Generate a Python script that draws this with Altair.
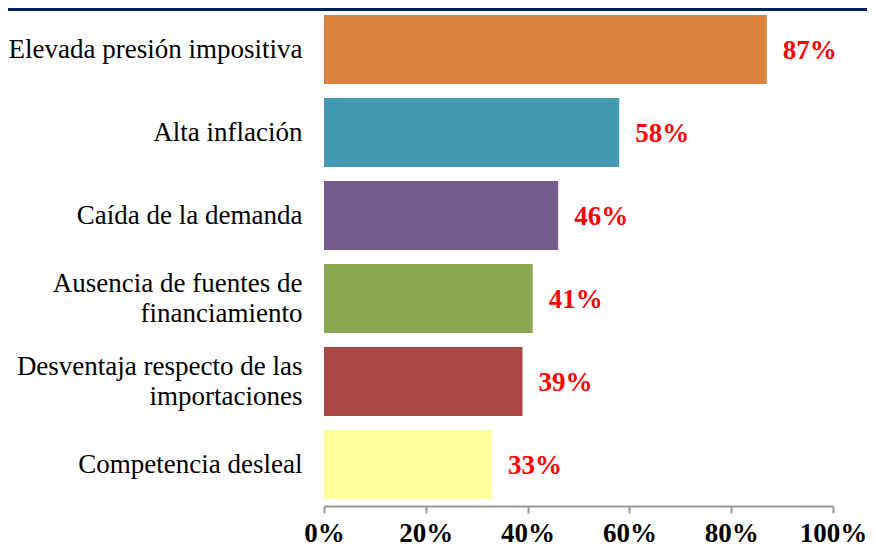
import altair as alt
import pandas as pd

categories = [
    "Elevada presión impositiva",
    "Alta inflación",
    "Caída de la demanda",
    "Ausencia de fuentes de|financiamiento",
    "Desventaja respecto de las|importaciones",
    "Competencia desleal",
]
values = [0.87, 0.58, 0.46, 0.41, 0.39, 0.33]
colors = ["#DC8340", "#459AB1", "#745A8F", "#8AA850", "#AA4946", "#FFFF9B"]

df = pd.DataFrame({"cat": categories, "val": values, "color": colors})

FONT = "Liberation Serif"
FS = 27

y_enc = alt.Y(
    "cat:N",
    sort=categories,
    title=None,
    scale=alt.Scale(paddingInner=0.17, paddingOuter=0.085),
    axis=alt.Axis(
        labelExpr="split(datum.label, '|')",
        labelFont=FONT,
        labelFontSize=FS,
        labelColor="black",
        labelPadding=22,
        labelLimit=400,
        labelLineHeight=30,
        labelOffset=alt.condition("indexof(datum.value, '|') >= 0", alt.value(-15), alt.value(0)),
        domain=False,
        ticks=False,
    ),
)
x_enc = alt.X(
    "val:Q",
    title=None,
    scale=alt.Scale(domain=[0, 1]),
    axis=alt.Axis(
        values=[0, 0.2, 0.4, 0.6, 0.8, 1.0],
        format=".0%",
        grid=False,
        domainColor="#999999",
        domainWidth=2,
        tickColor="#999999",
        tickWidth=2,
        tickSize=7,
        labelFont=FONT,
        labelFontSize=FS,
        labelFontWeight="bold",
        labelColor="black",
        labelPadding=7,
        labelFlush=False,
    ),
)

bars = alt.Chart(df).mark_bar().encode(
    x=x_enc,
    y=y_enc,
    color=alt.Color("color:N", scale=None),
)

labels = alt.Chart(df).mark_text(
    align="left", baseline="middle", dx=16, dy=1,
    font=FONT, fontSize=FS, fontWeight="bold", color="#FF0000",
).encode(
    x="val:Q",
    y=alt.Y("cat:N", sort=categories),
    text=alt.Text("val:Q", format=".0%"),
)

topline = alt.Chart(df).mark_rule(color="#002060", strokeWidth=3).encode(
    x=alt.value(-316), x2=alt.value(543), y=alt.value(1.5)
)

chart = alt.layer(bars, labels, topline).properties(
    width=509,
    height=498,
    autosize=alt.AutoSizeParams(type="none"),
    padding={"left": 316, "top": 0, "right": 34, "bottom": 40},
).configure_view(stroke=None)

chart.save("out.html", embed_options={"renderer": "svg", "actions": False})
